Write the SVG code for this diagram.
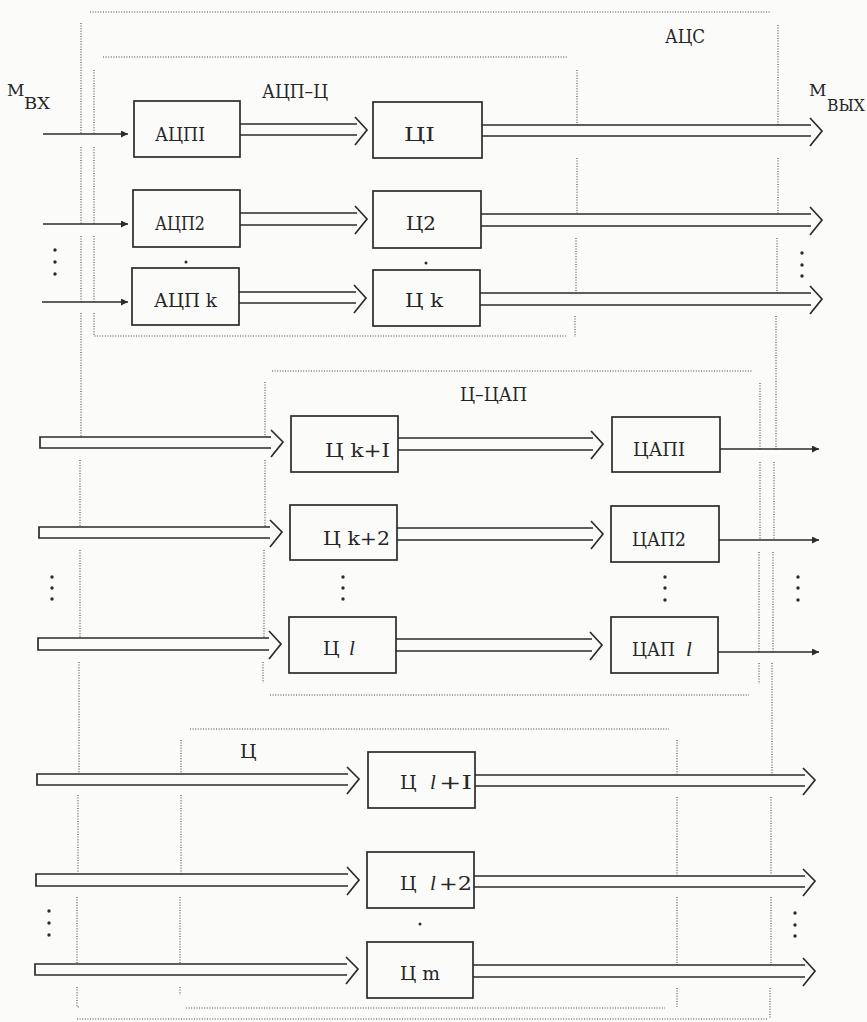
<svg xmlns="http://www.w3.org/2000/svg" width="867" height="1022" viewBox="0 0 867 1022">
<style>
.bg{fill:#fbfbfa}
.box{fill:none;stroke:#2b2b2b;stroke-width:1.7}
.bus{fill:none;stroke:#2b2b2b;stroke-width:1.7;stroke-linejoin:miter}
.arr{fill:none;stroke:#2b2b2b;stroke-width:1.5}
.dt{fill:none;stroke:#444;stroke-width:1.1;stroke-dasharray:1 1.6}
.t{font-family:"DejaVu Serif","Liberation Serif",serif;font-size:19px;fill:#262626}
.sub{font-family:"DejaVu Serif","Liberation Serif",serif;font-size:17px;fill:#262626}
.it{font-family:"Liberation Serif",serif;font-style:italic;font-size:21px}
.d{fill:#2b2b2b}
</style>
<defs>
<marker id="ah" viewBox="0 0 10 10" refX="10" refY="5" markerWidth="9" markerHeight="7" orient="auto" markerUnits="userSpaceOnUse"><path d="M0,0 L10,5 L0,10 z" fill="#2b2b2b"/></marker>
</defs>
<rect class="bg" x="0" y="0" width="867" height="1022"/>

<g id="frames">
<path class="dt" d="M90,12 H770"/>
<path class="dt" d="M77,1019 H768"/>
<path class="dt" d="M81,23 V134 M81,147 V224 M81,236 V302 M81,313 V437 M80,460 V527 M80,550 V638 M79,662 V773 M78,795 V873 M77,897 V964 M77,987 V1007 H80"/>
<path class="dt" d="M778,25 V125 M778,158 V214 M777,238 V293 M776,316 V450 M774,462 V540 M773,552 V652 M772,663 V775 M771,797 V874 M771,897 V965 M770,988 V1019"/>
<path class="dt" d="M103,57 H568"/>
<path class="dt" d="M94,70 V134 M94,147 V224 M94,236 V302 M94,313 V336 H567"/>
<path class="dt" d="M577,70 V125 M577,158 V213 M576,238 V292 M575,316 V337"/>
<path class="dt" d="M272,371 H753"/>
<path class="dt" d="M270,695 H749"/>
<path class="dt" d="M265,382 V437 M265,460 V527 M264,550 V638 M263,662 V683"/>
<path class="dt" d="M760,383 V450 M760,462 V540 M759,552 V652 M759,663 V684"/>
<path class="dt" d="M190,729 H669"/>
<path class="dt" d="M186,1008 H665"/>
<path class="dt" d="M181,740 V774 M181,795 V874 M180,897 V964 M180,987 V995"/>
<path class="dt" d="M677,740 V775 M677,797 V876 M677,897 V965 M677,988 V1007"/>
</g>

<g id="labels">
<text class="t" x="665" y="43" textLength="40" lengthAdjust="spacingAndGlyphs">АЦС</text>
<text class="t" x="262" y="98" textLength="66" lengthAdjust="spacingAndGlyphs">АЦП–Ц</text>
<text class="t" x="460" y="401" textLength="67" lengthAdjust="spacingAndGlyphs">Ц–ЦАП</text>
<text class="t" x="240" y="758">Ц</text>
<text class="sub" x="7" y="96">М</text><text class="sub" x="24" y="109" textLength="26" lengthAdjust="spacingAndGlyphs">ВХ</text>
<text class="sub" x="809" y="96">М</text><text class="sub" x="827" y="111" textLength="38" lengthAdjust="spacingAndGlyphs">ВЫХ</text>
</g>

<g id="connectors">
<path class="arr" d="M43,134 H128" marker-end="url(#ah)"/>
<path class="arr" d="M43,224 H128" marker-end="url(#ah)"/>
<path class="arr" d="M42,302 H128" marker-end="url(#ah)"/>
<path class="bus" d="M240,124 H357 M240,135 H357 M355,117 L367,130 L355,145"/>
<path class="bus" d="M240,213 H357 M240,225 H357 M355,206 L367,219 L355,234"/>
<path class="bus" d="M239,292 H356 M239,303 H356 M354,285 L366,298 L354,313"/>
<path class="bus" d="M482,125 H811 M482,136 H811 M810,118 L822,131 L810,146"/>
<path class="bus" d="M481,214 H811 M481,226 H811 M810,207 L822,220 L810,235"/>
<path class="bus" d="M480,293 H811 M480,305 H811 M810,286 L822,299 L810,314"/>
<path class="bus" d="M271,437 H40 V448 H271 M271,430 L283,442 L271,457"/>
<path class="bus" d="M270,527 H39 V538 H270 M270,520 L282,532 L270,547"/>
<path class="bus" d="M269,638 H38 V650 H269 M269,631 L281,644 L269,659"/>
<path class="bus" d="M398,438 H593 M398,450 H593 M591,431 L603,444 L591,459"/>
<path class="bus" d="M397,528 H593 M397,540 H593 M591,521 L603,534 L591,549"/>
<path class="bus" d="M396,639 H592 M396,651 H592 M590,632 L602,645 L590,660"/>
<path class="arr" d="M720,449 H819" marker-end="url(#ah)"/>
<path class="arr" d="M719,540 H819" marker-end="url(#ah)"/>
<path class="arr" d="M718,652 H819" marker-end="url(#ah)"/>
<path class="bus" d="M348,774 H37 V785 H348 M347,767 L359,779 L347,794"/>
<path class="bus" d="M348,874 H36 V886 H348 M347,867 L359,880 L347,895"/>
<path class="bus" d="M347,964 H35 V975 H347 M346,957 L358,969 L346,984"/>
<path class="bus" d="M475,775 H805 M475,786 H805 M803,768 L815,780 L803,795"/>
<path class="bus" d="M474,876 H805 M474,887 H805 M803,869 L815,881 L803,896"/>
<path class="bus" d="M473,965 H805 M473,977 H805 M803,958 L815,971 L803,986"/>
</g>

<g id="n-adc1"><rect class="box" x="134" y="101" width="106" height="56"/><text class="t" x="155" y="141" textLength="50" lengthAdjust="spacingAndGlyphs">АЦПI</text></g>
<g id="n-adc2"><rect class="box" x="133" y="190" width="107" height="57"/><text class="t" x="155" y="230" textLength="50" lengthAdjust="spacingAndGlyphs">АЦП2</text></g>
<g id="n-adck"><rect class="box" x="132" y="268" width="107" height="57"/><text class="t" x="154" y="307" textLength="63" lengthAdjust="spacingAndGlyphs">АЦП k</text></g>
<g id="n-c1"><rect class="box" x="373" y="102" width="109" height="56"/><text class="t" x="404" y="141" textLength="31" lengthAdjust="spacingAndGlyphs">ЦI</text></g>
<g id="n-c2"><rect class="box" x="373" y="191" width="108" height="57"/><text class="t" x="406" y="230" textLength="30" lengthAdjust="spacingAndGlyphs">Ц2</text></g>
<g id="n-ck"><rect class="box" x="373" y="270" width="107" height="56"/><text class="t" x="405" y="307" textLength="38" lengthAdjust="spacingAndGlyphs">Ц k</text></g>

<g id="n-ck1"><rect class="box" x="291" y="416" width="107" height="56"/><text class="t" x="325" y="457" textLength="65" lengthAdjust="spacingAndGlyphs">Ц k+I</text></g>
<g id="n-ck2"><rect class="box" x="290" y="505" width="107" height="55"/><text class="t" x="323" y="545" textLength="67" lengthAdjust="spacingAndGlyphs">Ц k+2</text></g>
<g id="n-cl"><rect class="box" x="289" y="617" width="107" height="56"/><text class="t" x="323" y="655">Ц<tspan class="it" x="349">l</tspan></text></g>
<g id="n-dac1"><rect class="box" x="612" y="417" width="108" height="55"/><text class="t" x="633" y="456" textLength="52" lengthAdjust="spacingAndGlyphs">ЦАПI</text></g>
<g id="n-dac2"><rect class="box" x="611" y="506" width="108" height="56"/><text class="t" x="632" y="546" textLength="54" lengthAdjust="spacingAndGlyphs">ЦАП2</text></g>
<g id="n-dacl"><rect class="box" x="611" y="617" width="107" height="56"/><text class="t" x="632" y="656"><tspan textLength="43" lengthAdjust="spacingAndGlyphs">ЦАП</tspan><tspan class="it" x="686">l</tspan></text></g>

<g id="n-cl1"><rect class="box" x="368" y="752" width="107" height="56"/><text class="t" x="400" y="789">Ц<tspan class="it" x="430">l</tspan><tspan x="439" textLength="33" lengthAdjust="spacingAndGlyphs">+I</tspan></text></g>
<g id="n-cl2"><rect class="box" x="367" y="852" width="107" height="56"/><text class="t" x="400" y="890">Ц<tspan class="it" x="430">l</tspan><tspan x="439" textLength="33" lengthAdjust="spacingAndGlyphs">+2</tspan></text></g>
<g id="n-cm"><rect class="box" x="367" y="942" width="106" height="56"/><text class="t" x="400" y="980" textLength="40" lengthAdjust="spacingAndGlyphs">Ц m</text></g>

<g id="ellipses">
<circle class="d" cx="55" cy="250" r="1.7"/><circle class="d" cx="55" cy="262" r="1.7"/><circle class="d" cx="55" cy="274" r="1.7"/>
<circle class="d" cx="186" cy="262" r="1.5"/>
<circle class="d" cx="426" cy="263" r="1.5"/>
<circle class="d" cx="802" cy="253" r="1.7"/><circle class="d" cx="802" cy="265" r="1.7"/><circle class="d" cx="802" cy="276" r="1.7"/>
<circle class="d" cx="52" cy="577" r="1.7"/><circle class="d" cx="52" cy="588" r="1.7"/><circle class="d" cx="52" cy="599" r="1.7"/>
<circle class="d" cx="343" cy="577" r="1.7"/><circle class="d" cx="343" cy="588" r="1.7"/><circle class="d" cx="343" cy="599" r="1.7"/>
<circle class="d" cx="665" cy="577" r="1.7"/><circle class="d" cx="665" cy="588" r="1.7"/><circle class="d" cx="665" cy="600" r="1.7"/>
<circle class="d" cx="798" cy="577" r="1.7"/><circle class="d" cx="798" cy="588" r="1.7"/><circle class="d" cx="798" cy="600" r="1.7"/>
<circle class="d" cx="49" cy="911" r="1.7"/><circle class="d" cx="49" cy="923" r="1.7"/><circle class="d" cx="49" cy="935" r="1.7"/>
<circle class="d" cx="420" cy="924" r="1.5"/>
<circle class="d" cx="795" cy="913" r="1.7"/><circle class="d" cx="795" cy="925" r="1.7"/><circle class="d" cx="795" cy="936" r="1.7"/>
</g>
</svg>
